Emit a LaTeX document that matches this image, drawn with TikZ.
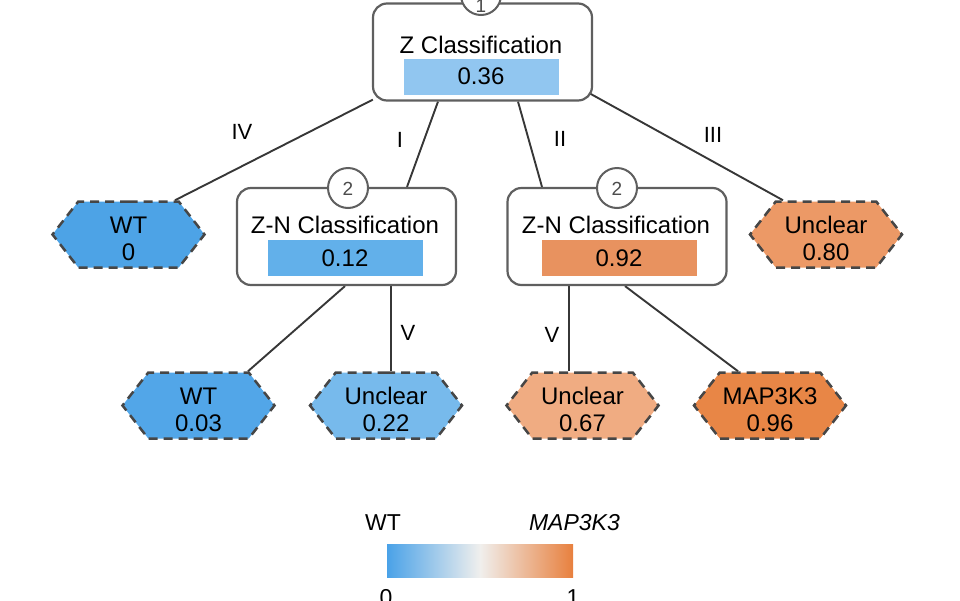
\documentclass[tikz,border=0pt]{standalone}
\usepackage{fontspec}
\setmainfont{Liberation Sans}
\usetikzlibrary{shapes.symbols,calc,backgrounds}
\definecolor{edgecol}{RGB}{55,55,55}
\definecolor{boxcol}{RGB}{95,95,95}
\definecolor{dashcol}{RGB}{70,70,70}
\definecolor{c000}{RGB}{77,163,230}
\definecolor{c003}{RGB}{82,166,232}
\definecolor{c012}{RGB}{98,176,234}
\definecolor{c022}{RGB}{119,186,236}
\definecolor{c036}{RGB}{145,198,240}
\definecolor{c067}{RGB}{240,172,130}
\definecolor{c080}{RGB}{236,153,102}
\definecolor{c092}{RGB}{232,146,95}
\definecolor{c096}{RGB}{232,134,70}
\definecolor{gblue}{RGB}{74,162,232}
\definecolor{gmid}{RGB}{240,239,237}
\definecolor{gorange}{RGB}{232,128,62}
\tikzset{
  catbox/.style={draw=boxcol, line width=2.2pt, rounded corners=14pt, fill=white, minimum width=219pt, minimum height=97pt, inner sep=0pt},
  titletext/.style={font=\fontsize{24}{26}\selectfont, inner sep=0pt},
  valbar/.style={minimum width=155pt, minimum height=36pt, inner sep=0pt, font=\fontsize{24}{26}\selectfont},
  numcirc/.style={circle, draw=boxcol, line width=2pt, fill=white, minimum size=40pt, inner sep=0pt},
  numtext/.style={font=\fontsize{19}{20}\selectfont, text=boxcol!80!black, inner sep=0pt},
  leaf/.style={signal, signal to=east and west, signal pointer angle=104, draw=dashcol, line width=2.5pt, dash pattern=on 9pt off 6pt, minimum width=152pt, minimum height=66pt, inner sep=0pt},
  leaftext/.style={align=center, inner sep=0pt, font=\fontsize{24}{27}\selectfont},
  edge/.style={draw=edgecol, line width=1.9pt},
  elabel/.style={font=\fontsize{22}{24}\selectfont, inner sep=0pt},
  legtext/.style={font=\fontsize{23}{25}\selectfont, inner sep=0pt},
}
\begin{document}
\begin{tikzpicture}[x=1pt,y=-1pt]
\useasboundingbox (0,0) rectangle (960,600);
% root
\node[catbox] (root) at (482.5,52) {};
\node[numcirc] (c1) at (481,-5) {};
\node[numtext] (c1t) at (481,6) {1};
\node[titletext] (roott) at (481,45) {Z Classification};
\node[valbar, fill=c036] (rootv) at (481,76.5) {0.36};
% Z-N boxes
\node[catbox] (zn1) at (346.5,236.5) {};
\node[numcirc] (c2a) at (348,188) {};
\node[numtext] (c2at) at (348,188.5) {2};
\node[titletext] (zn1t) at (345,225) {Z-N Classification};
\node[valbar, fill=c012] (zn1v) at (345,258) {0.12};
\node[catbox] (zn2) at (617,236.5) {};
\node[numcirc] (c2b) at (617,188) {};
\node[numtext] (c2bt) at (617,188.5) {2};
\node[titletext] (zn2t) at (616,225) {Z-N Classification};
\node[valbar, fill=c092] (zn2v) at (619,258) {0.92};
% leaves
\node[leaf, fill=c000] (wt0) at (128.5,234.5) {};
\node[leaftext] (wt0t) at (128.5,238.5) {WT\\0};
\node[leaf, fill=c080] (unc80) at (826,234.5) {};
\node[leaftext] (unc80t) at (826,238.5) {Unclear\\0.80};
\node[leaf, fill=c003] (wt03) at (198.5,405.5) {};
\node[leaftext] (wt03t) at (198.5,409.5) {WT\\0.03};
\node[leaf, fill=c022] (unc22) at (386,405.5) {};
\node[leaftext] (unc22t) at (386,409.5) {Unclear\\0.22};
\node[leaf, fill=c067] (unc67) at (582.5,405.5) {};
\node[leaftext] (unc67t) at (582.5,409.5) {Unclear\\0.67};
\node[leaf, fill=c096] (map) at (770,405.5) {};
\node[leaftext] (mapt) at (770,409.5) {MAP3K3\\0.96};
% edges
\begin{scope}[on background layer]
\draw[edge] ($(root.south west)+(1,-2)$) -- ($(wt0.north)+(46.5,0)$);
\draw[edge] ($(root.south)+(-44.5,0)$) -- ($(zn1.north)+(60.5,0)$);
\draw[edge] ($(root.south)+(35.5,0)$) -- ($(zn2.north)+(-75,0)$);
\draw[edge] ($(root.south east)+(-3,-8)$) -- ($(unc80.north)+(-43,0)$);
\draw[edge] ($(zn1.south)+(-1.5,0)$) -- ($(wt03.north)+(49.5,0)$);
\coordinate (p1) at ($(zn1.south)+(44.5,0)$);
\draw[edge] (p1) -- (p1 |- unc22.north);
\coordinate (p2) at ($(zn2.south)+(-48,0)$);
\draw[edge] (p2) -- (p2 |- unc67.north);
\draw[edge] ($(zn2.south)+(8,0)$) -- ($(map.north)+(-32,0)$);
\end{scope}
% edge labels
\node[elabel] (lIV) at (242,132) {IV};
\node[elabel] (lI) at (400,140) {I};
\node[elabel] (lII) at (560,139) {II};
\node[elabel] (lIII) at (713,135) {III};
\node[elabel] (lV1) at (408,333) {V};
\node[elabel] (lV2) at (552,335) {V};
% legend
\node[legtext] (legwt) at (383,523) {WT};
\node[legtext, anchor=east] (legmap) at (620,523) {\itshape MAP3K3};
\node[minimum width=186pt, minimum height=33pt, inner sep=0pt, left color=gblue, right color=gorange, middle color=gmid] (legbar) at (480,560.5) {};
\node[legtext, anchor=north] (leg0) at (386,589) {0};
\node[legtext, anchor=north] (leg1) at (573,589) {1};
\end{tikzpicture}
\end{document}
